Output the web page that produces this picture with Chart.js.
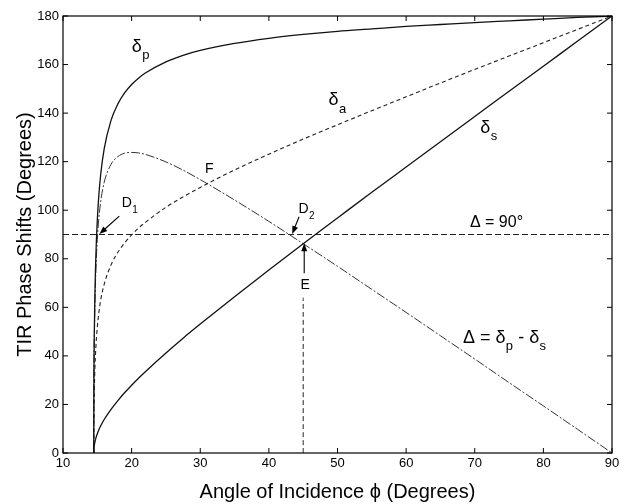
<!DOCTYPE html>
<html>
<head>
<meta charset="utf-8">
<script src="https://cdn.jsdelivr.net/npm/chart.js@4"></script>
<style>
  html, body { margin: 0; padding: 0; background: #fff; }
  #wrap { width: 627px; height: 504px; }
</style>
</head>
<body>
<div id="wrap"><canvas id="tir"></canvas></div>
<script>
// Angle of incidence (degrees), critical angle ~14.48
const angles = [14.48, 14.5, 14.6, 14.8, 15, 15.2, 15.5, 16, 17, 18, 19, 20, 21, 22, 25, 27.5, 30, 35, 40, 45, 50, 55, 60, 65, 70, 75, 80, 85, 90];
const deltaP = [0, 25.7, 56.1, 82.0, 95.9, 105.3, 114.9, 125.3, 137.0, 143.8, 148.4, 151.8, 154.4, 156.5, 161.1, 163.8, 165.8, 168.7, 170.8, 172.4, 173.7, 174.7, 175.7, 176.5, 177.3, 178.0, 178.7, 179.4, 180];
const deltaS = [0, 1.6, 3.8, 6.2, 7.9, 9.4, 11.2, 13.8, 18.0, 21.6, 24.9, 27.9, 30.8, 33.5, 41.2, 47.3, 53.1, 64.4, 75.4, 86.2, 96.8, 107.4, 117.8, 128.2, 138.6, 149.0, 159.3, 169.7, 180];
const deltaA = [0, 13.7, 30.0, 44.1, 51.9, 57.3, 63.1, 69.5, 77.5, 82.7, 86.6, 89.8, 92.6, 95.0, 101.2, 105.5, 109.4, 116.6, 123.1, 129.3, 135.2, 141.0, 146.7, 152.4, 158.0, 163.5, 169.0, 174.5, 180];
const retard = [0, 24.0, 52.3, 75.7, 88.0, 95.9, 103.7, 111.5, 118.9, 122.1, 123.5, 123.8, 123.6, 123.0, 119.9, 116.5, 112.6, 104.2, 95.4, 86.2, 76.9, 67.4, 57.9, 48.3, 38.7, 29.0, 19.4, 9.7, 0];

// reference lines
const ninetyX = [10, 90];
const ninetyY = [90, 90];
const eLineX = [45, 45];
const eLineY = [0, 64];

const xTicks = [10, 20, 30, 40, 50, 60, 70, 80, 90];
const yTicks = [0, 20, 40, 60, 80, 100, 120, 140, 160, 180];

const FONT = "'Liberation Sans', Arial, sans-serif";

function pts(xs, ys) {
    return xs.map((x, i) => ({ x: x, y: ys[i] }));
}

// labels: [text, subscript, x, y, size, subSize]
const labels = [
    ["\u03b4", "p", 20.0, 165.2, 18, 13],
    ["\u03b4", "a", 48.7, 143.3, 18, 13],
    ["\u03b4", "s", 70.8, 131.9, 18, 13],
    ["D", "1", 18.55, 101.4, 14, 10],
    ["D", "2", 44.3, 98.7, 14, 10],
    ["F", "", 30.7, 115.2, 14, 10],
    ["E", "", 44.6, 67.4, 14, 10],
    ["\u0394 = 90\u00b0", "", 69.3, 93.2, 16, 10]
];

// arrows: [fromX, fromY, toX, toY]
const arrows = [
    [18.2, 97.6, 15.3, 90.2],
    [44.4, 97.3, 43.4, 90.2],
    [45.15, 74.0, 45.15, 86.4]
];

function drawArrow(ctx, x1, y1, x2, y2) {
    const a = Math.atan2(y2 - y1, x2 - x1);
    const len = 8, w = 3;
    ctx.beginPath();
    ctx.moveTo(x1, y1);
    ctx.lineTo(x2 - Math.cos(a) * len * 0.8, y2 - Math.sin(a) * len * 0.8);
    ctx.stroke();
    ctx.beginPath();
    ctx.moveTo(x2, y2);
    ctx.lineTo(x2 - Math.cos(a) * len + Math.sin(a) * w, y2 - Math.sin(a) * len - Math.cos(a) * w);
    ctx.lineTo(x2 - Math.cos(a) * len - Math.sin(a) * w, y2 - Math.sin(a) * len + Math.cos(a) * w);
    ctx.closePath();
    ctx.fill();
}

const decorations = {
    id: "decorations",
    afterDraw(chart) {
        const ctx = chart.ctx;
        const xs = chart.scales.x, ys = chart.scales.y;
        const area = chart.chartArea;
        ctx.save();
        ctx.strokeStyle = "#000";
        ctx.fillStyle = "#000";

        // frame + inward ticks on all sides
        ctx.lineWidth = 1.2;
        ctx.strokeRect(area.left, area.top, area.right - area.left, area.bottom - area.top);
        ctx.lineWidth = 1;
        xTicks.forEach(v => {
            const px = xs.getPixelForValue(v);
            ctx.beginPath();
            ctx.moveTo(px, area.bottom); ctx.lineTo(px, area.bottom - 5);
            ctx.moveTo(px, area.top); ctx.lineTo(px, area.top + 5);
            ctx.stroke();
        });
        yTicks.forEach(v => {
            const py = ys.getPixelForValue(v);
            ctx.beginPath();
            ctx.moveTo(area.left, py); ctx.lineTo(area.left + 5, py);
            ctx.moveTo(area.right, py); ctx.lineTo(area.right - 5, py);
            ctx.stroke();
        });

        // text labels
        ctx.textBaseline = "alphabetic";
        ctx.textAlign = "left";
        labels.forEach(([t, sub, x, y, size, subSize]) => {
            const px = xs.getPixelForValue(x), py = ys.getPixelForValue(y);
            ctx.font = size + "px " + FONT;
            ctx.fillText(t, px, py);
            if (sub) {
                const w = ctx.measureText(t).width;
                ctx.font = subSize + "px " + FONT;
                ctx.fillText(sub, px + w + 0.5, py + size * 0.42);
            }
        });

        // "Δ = δp - δs"
        {
            let px = xs.getPixelForValue(68.3), py = ys.getPixelForValue(45.4);
            const parts = [["\u0394 = \u03b4", 18, 0], ["p", 13, 7.5], [" - \u03b4", 18, 0], ["s", 13, 7.5]];
            parts.forEach(([t, size, dy]) => {
                ctx.font = size + "px " + FONT;
                ctx.fillText(t, px, py + dy);
                px += ctx.measureText(t).width + (size < 18 ? 0.5 : 0);
            });
        }

        // arrows
        ctx.lineWidth = 1.1;
        arrows.forEach(([x1, y1, x2, y2]) => {
            drawArrow(ctx, xs.getPixelForValue(x1), ys.getPixelForValue(y1),
                xs.getPixelForValue(x2), ys.getPixelForValue(y2));
        });
        ctx.restore();
    }
};

const ctx = document.getElementById("tir").getContext("2d");

new Chart(ctx, {
    type: "line",
    data: {
        datasets: [
            { label: "dp", data: pts(angles, deltaP), borderColor: "#111", borderWidth: 1.3 },
            { label: "ds", data: pts(angles, deltaS), borderColor: "#111", borderWidth: 1.3 },
            { label: "da", data: pts(angles, deltaA), borderColor: "#222", borderWidth: 1.1, borderDash: [4, 3] },
            { label: "Delta", data: pts(angles, retard), borderColor: "#333", borderWidth: 1, borderDash: [9, 2, 2, 2] },
            { label: "90", data: pts(ninetyX, ninetyY), borderColor: "#222", borderWidth: 1.1, borderDash: [6, 3] },
            { label: "E", data: pts(eLineX, eLineY), borderColor: "#222", borderWidth: 1, borderDash: [5, 3] }
        ]
    },
    options: {
        responsive: true,
        maintainAspectRatio: false,
        animation: false,
        elements: {
            point: { radius: 0, hoverRadius: 0 },
            line: { cubicInterpolationMode: "monotone", fill: false }
        },
        layout: { padding: { top: 16, right: 15, left: 0, bottom: 0 } },
        plugins: {
            legend: { display: false },
            tooltip: { enabled: false }
        },
        scales: {
            x: {
                type: "linear",
                min: 10,
                max: 90,
                afterFit: s => { s.height = 51; },
                afterBuildTicks: s => { s.ticks = xTicks.map(v => ({ value: v })); },
                grid: { display: false, drawTicks: false },
                border: { display: false },
                ticks: { color: "#000", padding: 3, font: { family: FONT, size: 13 }, maxRotation: 0 },
                title: {
                    display: true,
                    text: "Angle of Incidence \u03d5 (Degrees)",
                    color: "#000",
                    font: { family: FONT, size: 20 },
                    padding: { top: 0, bottom: 0 }
                }
            },
            y: {
                type: "linear",
                min: 0,
                max: 180,
                afterFit: s => { s.width = 63; },
                afterBuildTicks: s => { s.ticks = yTicks.map(v => ({ value: v })); },
                grid: { display: false, drawTicks: false },
                border: { display: false },
                ticks: { color: "#000", padding: 4, font: { family: FONT, size: 13 } },
                title: {
                    display: true,
                    text: "TIR Phase Shifts (Degrees)",
                    color: "#000",
                    font: { family: FONT, size: 20 },
                    padding: { top: 13, bottom: 0 }
                }
            }
        }
    },
    plugins: [decorations]
});
</script>
</body>
</html>
